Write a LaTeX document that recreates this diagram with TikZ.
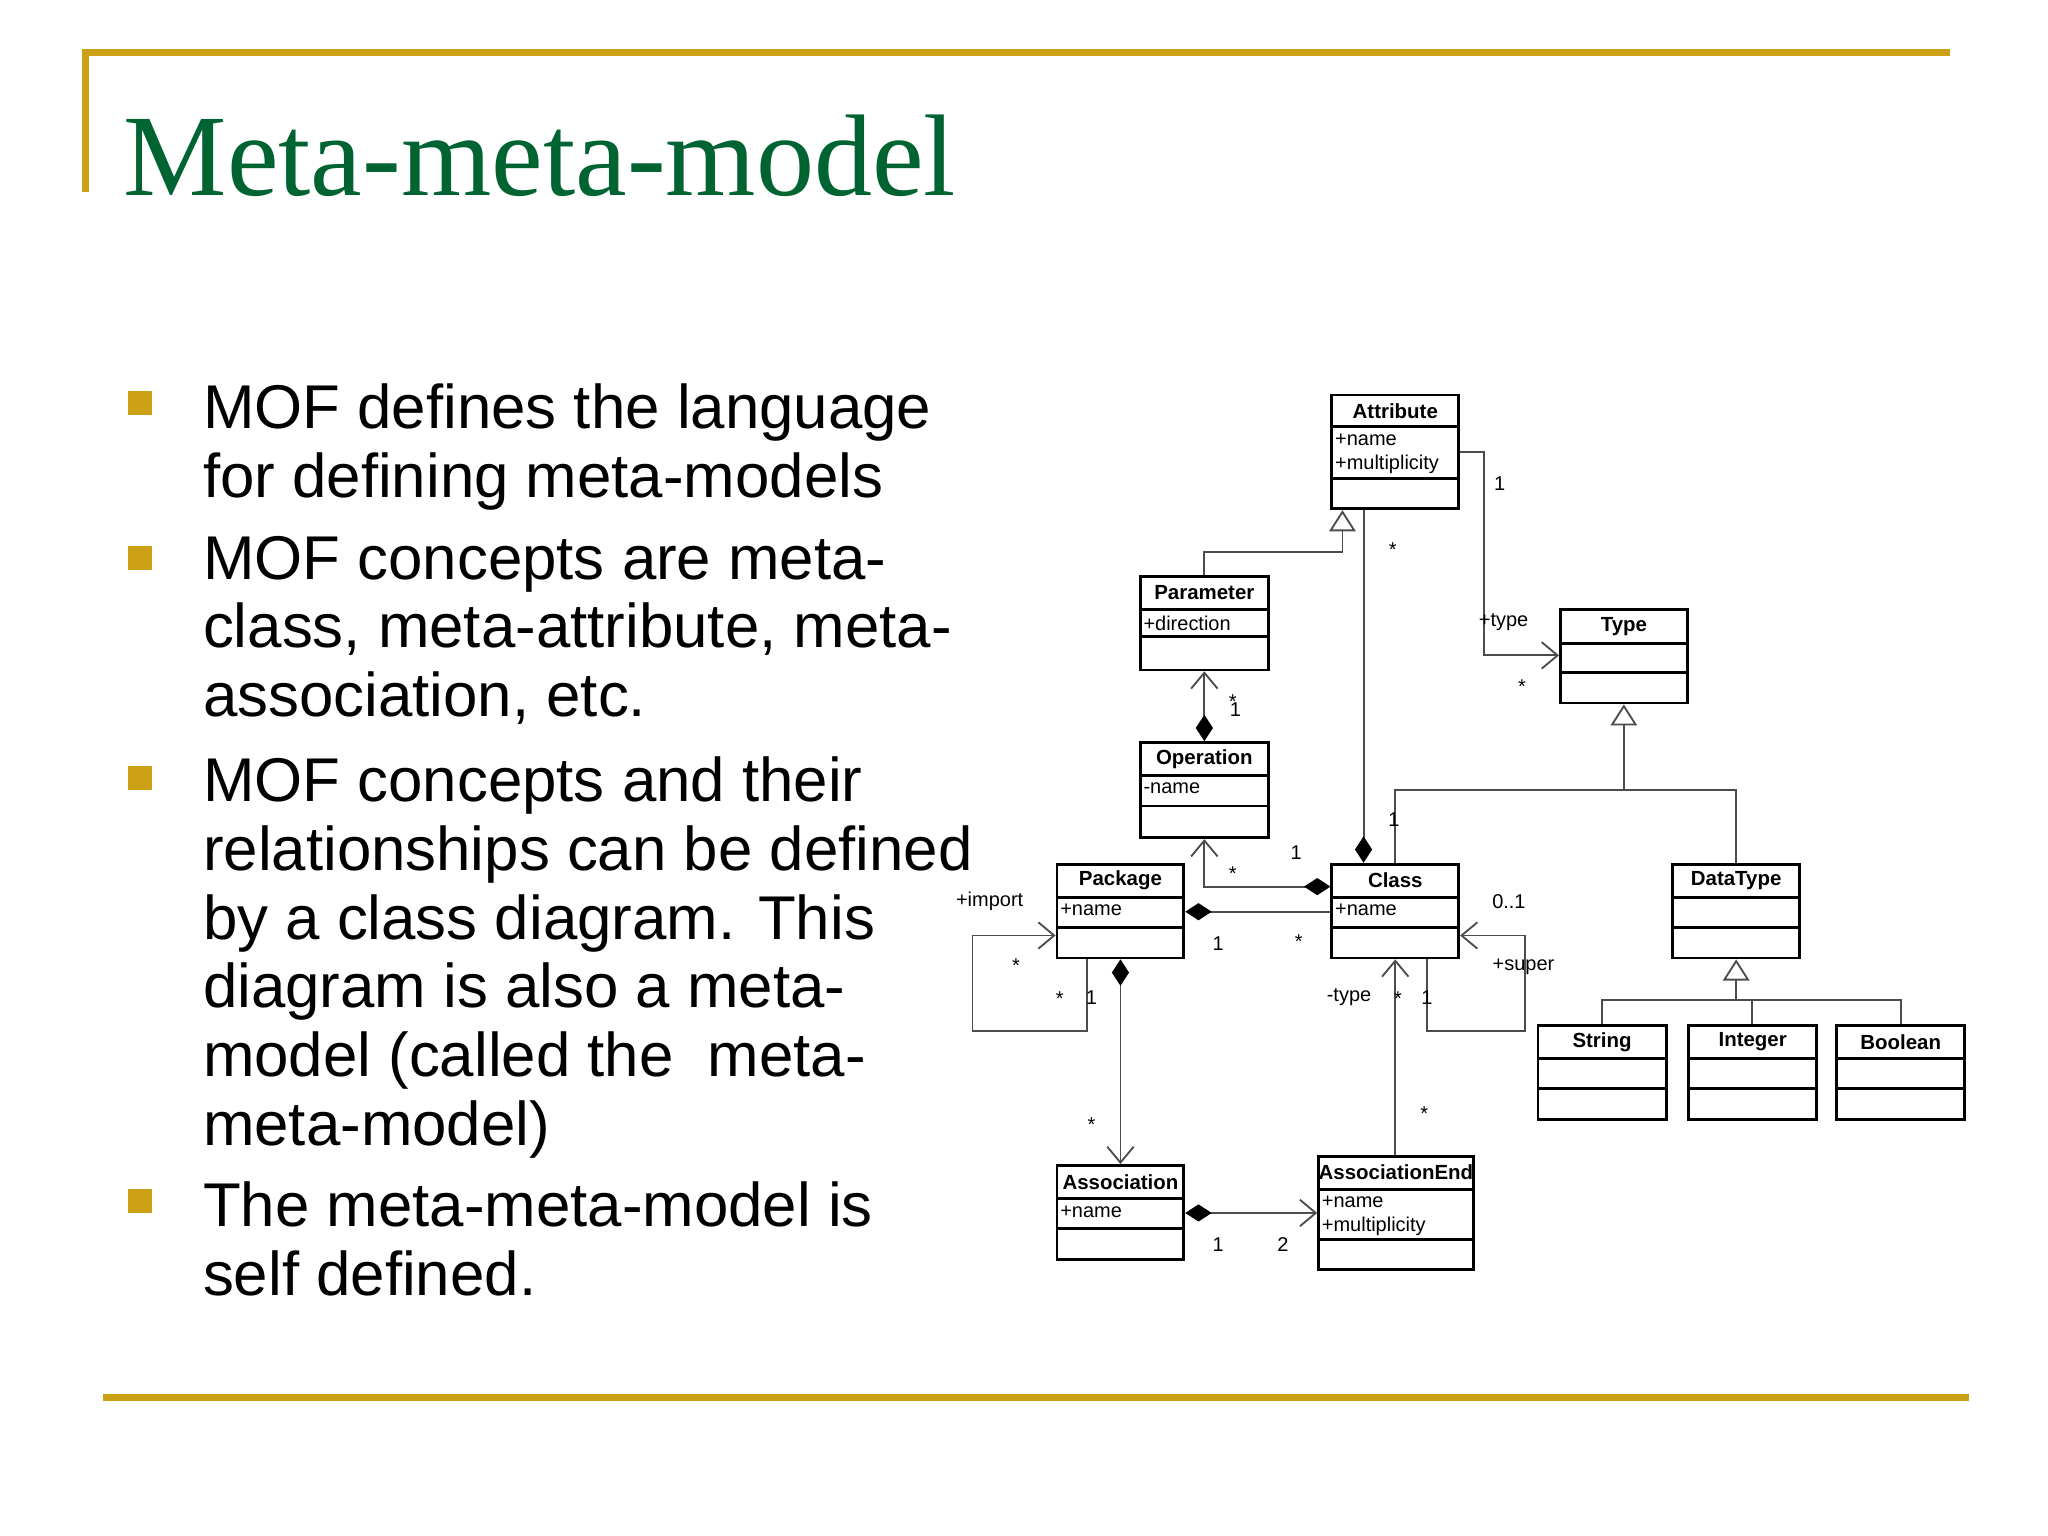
\documentclass[tikz,border=0pt]{standalone}
\usepackage{fontspec}
\setmainfont{Liberation Sans}
\newfontfamily\titlefont{Liberation Serif}
\usetikzlibrary{positioning,fit,arrows.meta}
\definecolor{gold}{RGB}{204,160,20}
\definecolor{titlegreen}{RGB}{0,100,50}
\tikzset{
  cls/.style={draw=black,line width=0.6pt,inner sep=0pt},
  ttl/.style={font=\bfseries\fontsize{4.4}{5}\selectfont,inner sep=0pt},
  att/.style={font=\fontsize{4.3}{5.1}\selectfont,inner sep=0.5pt,align=left,anchor=north west},
  lab/.style={font=\fontsize{4.3}{5}\selectfont,inner sep=0pt},
  lnk/.style={draw=black!70,line width=0.4pt},
  nav/.style={lnk,-{Straight Barb[length=0.12cm,width=0.2cm]}},
  gen/.style={lnk,-{Triangle[open,length=0.16cm,width=0.2cm,fill=white]}},
  comp/.style={lnk,{Diamond[length=0.2cm,width=0.13cm,black]}-},
  compnav/.style={lnk,{Diamond[length=0.2cm,width=0.13cm,black]}-{Straight Barb[length=0.12cm,width=0.2cm]}},
  bul/.style={fill=gold,minimum size=0.18cm,inner sep=0pt},
  txt/.style={font=\fontsize{13.3}{14.8}\selectfont,anchor=north west,align=left,inner sep=0pt}
}
% class box: name, left, top, right, bottom, divider1, divider2, title, attributes
\newcommand{\umlcls}[9]{%
  \coordinate (#1-nw) at (#2,-#3);
  \coordinate (#1-se) at (#4,-#5);
  \node[cls,fit=(#1-nw)(#1-se)] (#1) {};
  \draw[line width=0.6pt] (#2,-#6) -- (#4,-#6);
  \draw[line width=0.6pt] (#2,-#7) -- (#4,-#7);
  \node[ttl] (#1-t) at ({(#2+#4)/2},{-(#3+#6)/2}) {#8};
  \node[att] (#1-a) at (#2,-#6-3) {#9};
}
\begin{document}
\begin{tikzpicture}[x=0.01cm,y=0.01cm]
\useasboundingbox (0,0) rectangle (1550,-1162);
% frame and title
\coordinate (tl) at (65,-40);
\draw[gold,line width=1.5pt] (65,-145) -- (tl) -- (1476,-40);
\draw[gold,line width=1.5pt] (78,-1058) -- (1490,-1058);
\node[anchor=base west,inner sep=0pt,text=titlegreen,font=\titlefont\fontsize{25}{30}\selectfont] (title) at (93,-148) {Meta-meta-model};
% bullets
\node[bul] (b1) at (106,-305) {};
\node[bul] (b2) at (106,-422) {};
\node[bul] (b3) at (106,-589) {};
\node[bul] (b4) at (106,-909) {};
\node[txt] (t1) at (153,-290) {MOF defines the language\\for defining meta-models};
\node[txt] (t2) at (153,-405) {MOF concepts are meta-\\class, meta-attribute, meta-\\association, etc.};
\node[txt] (t3) at (153,-572) {MOF concepts and their\\relationships can be defined\\by a class diagram. This\\diagram is also a meta-\\model (called the~ meta-\\meta-model)};
\node[txt] (t4) at (153,-894) {The meta-meta-model is\\self defined.};
% classes
\umlcls{attr}{1008}{299}{1104}{385}{323}{362}{Attribute}{+name\\+multiplicity}
\umlcls{par}{863}{436}{960}{507}{461}{482}{Parameter}{+direction}
\umlcls{op}{863}{562}{960}{634}{587}{610}{Operation}{-name}
\umlcls{type}{1181}{461}{1277}{532}{487}{509}{Type}{}
\umlcls{pkg}{800}{654}{896}{725}{679}{702}{Package}{+name}
\umlcls{cl}{1008}{654}{1104}{725}{679}{702}{Class}{+name}
\umlcls{dt}{1266}{654}{1362}{725}{679}{702}{DataType}{}
\umlcls{str}{1164}{776}{1261}{847}{801}{824}{String}{}
\umlcls{int}{1278}{776}{1375}{847}{801}{824}{Integer}{}
\umlcls{bool}{1390}{776}{1487}{847}{801}{824}{Boolean}{}
\umlcls{asc}{800}{882}{896}{953}{907}{930}{Association}{+name}
\umlcls{ae}{998}{875}{1115}{961}{900}{938}{AssociationEnd}{+name\\+multiplicity}
% generalizations
\draw[gen] (par.north) |- (1016,-418) -- (attr.south -| 1016,0);
\draw[lnk] (cl.north -| 1056,0) |- (dt.north |- 0,-598) -- (dt.north);
\draw[gen] (1229,-598) -- (type.south -| 1229,0);
\draw[gen] (str.north) |- (1314,-757) -- (dt.south -| 1314,0);
\draw[lnk] (int.north -| 1326,0) -- (1326,-757);
\draw[lnk] (1314,-757) -| (bool.north);
% associations
\draw[comp] (cl.north -| 1032,0) -- (attr.south -| 1032,0);
\draw[nav] (attr.east |- 0,-342) -| (1123,-496) -- (type.west |- 0,-496);
\draw[compnav] (op.north) -- (par.south);
\draw[compnav] (cl.west |- 0,-671) -| (op.south);
\draw[comp] (pkg.east |- 0,-690) -- (cl.west |- 0,-690);
\draw[nav] (pkg.south -| 823,0) |- (736,-780) |- (pkg.west |- 0,-708);
\draw[compnav] (pkg.south -| 848,0) -- (asc.north -| 848,0);
\draw[nav] (cl.south -| 1080,0) |- (1154,-780) |- (cl.east |- 0,-708);
\draw[nav] (ae.north -| 1056,0) -- (cl.south -| 1056,0);
\draw[compnav] (asc.east |- 0,-918) -- (ae.west |- 0,-918);
% multiplicities and roles
\node[lab] (m1) at (1054,-416) {*};
\node[lab] (m2) at (1055,-620) {1};
\node[lab] (m3) at (1135,-366) {1};
\node[lab] (m4) at (1138,-471) {+type};
\node[lab] (m5) at (1152,-520) {*};
\node[lab] (m6) at (933,-531) {*};
\node[lab] (m7) at (935,-537) {1};
\node[lab] (m8) at (933,-661) {*};
\node[lab] (m9) at (981,-645) {1};
\node[lab] (m10) at (922,-714) {1};
\node[lab] (m11) at (983,-713) {*};
\node[lab] (m12) at (749,-682) {+import};
\node[lab] (m13) at (769,-731) {*};
\node[lab] (m14) at (802,-756) {*};
\node[lab] (m15) at (826,-755) {1};
\node[lab] (m16) at (826,-851) {*};
\node[lab] (m17) at (1142,-682) {0..1};
\node[lab] (m18) at (1153,-732) {+super};
\node[lab] (m19) at (1080,-755) {1};
\node[lab] (m20) at (1021,-755) {-type};
\node[lab] (m21) at (1058,-756) {*};
\node[lab] (m22) at (1078,-843) {*};
\node[lab] (m23) at (922,-942) {1};
\node[lab] (m24) at (971,-942) {2};
\end{tikzpicture}
\end{document}
